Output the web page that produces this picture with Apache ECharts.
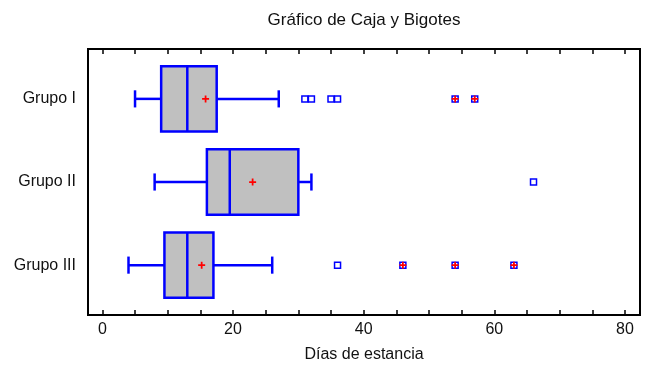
<!DOCTYPE html>
<html>
<head>
<meta charset="utf-8">
<script src="https://cdn.jsdelivr.net/npm/echarts@6/dist/echarts.min.js"></script>
<style>
  html, body { margin: 0; padding: 0; background: #fff; }
  #contain { width: 646px; height: 365px; }
</style>
</head>
<body>
<div id="contain"></div>
<script>
// datos
var grupos = ['Grupo I', 'Grupo II', 'Grupo III'];
var bigoteMin = [5, 8, 4];
var q1 = [9, 16, 9.5];
var mediana = [13, 19.5, 13];
var q3 = [17.5, 30, 17];
var bigoteMax = [27, 32, 26];
var medias = [15.8, 23, 15.2];
var atipicos = [[31, 32, 35, 36], [66], [36]];          // cuadrado azul
var extremos = [[54, 57], [], [46, 54, 63]];           // cuadrado + cruz roja
var xTicks = [0, 5, 10, 15, 20, 25, 30, 35, 40, 45, 50, 55, 60, 65, 70, 75, 80];
var xLabels = [0, 20, 40, 60, 80];

var fuente = 'Liberation Sans, Arial, sans-serif';
var azul = '#0000ff';
var rojo = '#ff0000';
var cruz = 'path://M3,0h2v3h3v2h-3v3h-2v-3h-3v-2h3z';

var cajas = [], puntosMedia = [], puntosAt = [], puntosExt = [];
for (var i = 0; i < grupos.length; i++) {
    cajas.push([i + 1, bigoteMin[i], q1[i], mediana[i], q3[i], bigoteMax[i]]);
    puntosMedia.push([medias[i], i + 1]);
    atipicos[i].forEach(function (v) { puntosAt.push([v, i + 1]); });
    extremos[i].forEach(function (v) { puntosExt.push([v, i + 1]); });
}

function dibujaCaja(params, api) {
    var y = api.value(0);
    var half = 0.393, cap = 0.103;
    var a = api.coord([api.value(2), y - half]);
    var b = api.coord([api.value(4), y + half]);
    var top = Math.min(a[1], b[1]), bot = Math.max(a[1], b[1]);
    var med = api.coord([api.value(3), y]);
    var lo = api.coord([api.value(1), y]);
    var hi = api.coord([api.value(5), y]);
    var c1 = api.coord([api.value(1), y - cap]);
    var c2 = api.coord([api.value(1), y + cap]);
    var lineStyle = { stroke: azul, lineWidth: 2.5, fill: null };
    return {
        type: 'group',
        children: [
            { type: 'line', shape: { x1: lo[0], y1: lo[1], x2: a[0], y2: lo[1] }, style: lineStyle },
            { type: 'line', shape: { x1: b[0], y1: hi[1], x2: hi[0], y2: hi[1] }, style: lineStyle },
            { type: 'line', shape: { x1: lo[0], y1: c1[1], x2: lo[0], y2: c2[1] }, style: lineStyle },
            { type: 'line', shape: { x1: hi[0], y1: c1[1], x2: hi[0], y2: c2[1] }, style: lineStyle },
            { type: 'rect', shape: { x: a[0], y: top, width: b[0] - a[0], height: bot - top },
              style: { fill: '#c0c0c0', stroke: azul, lineWidth: 2.5 } },
            { type: 'line', shape: { x1: med[0], y1: top, x2: med[0], y2: bot }, style: lineStyle }
        ]
    };
}

var myChart = echarts.init(document.getElementById('contain'));
var option = {
    animation: false,
    backgroundColor: '#fff',
    title: {
        text: 'Gráfico de Caja y Bigotes',
        left: 359,
        top: 7,
        textAlign: 'center',
        textStyle: { fontFamily: fuente, fontSize: 17, fontWeight: 'normal', color: '#111' }
    },
    grid: {
        left: 88, right: 6, top: 49, bottom: 50,
        outerBoundsMode: 'none',
        show: true, borderColor: '#000', borderWidth: 2, backgroundColor: 'transparent'
    },
    xAxis: [
        {
            type: 'value', min: -2.2, max: 82.3, position: 'bottom',
            name: 'Días de estancia', nameLocation: 'middle', nameGap: 32,
            nameTextStyle: { fontFamily: fuente, fontSize: 16, color: '#111' },
            splitLine: { show: false },
            axisLine: { show: true, onZero: false, lineStyle: { color: '#000', width: 2 } },
            axisTick: { inside: true, length: 5, customValues: xTicks, lineStyle: { color: '#000', width: 1.5 } },
            axisLabel: { customValues: xLabels, margin: 7, fontFamily: fuente, fontSize: 16, color: '#111' }
        },
        {
            type: 'value', min: -2.2, max: 82.3, position: 'top',
            splitLine: { show: false },
            axisLine: { show: true, onZero: false, lineStyle: { color: '#000', width: 2 } },
            axisTick: { inside: true, length: 5, customValues: xTicks, lineStyle: { color: '#000', width: 1.5 } },
            axisLabel: { show: false }
        }
    ],
    yAxis: {
        type: 'value', min: 0.4, max: 3.6, inverse: true,
        splitLine: { show: false },
        axisLine: { show: true, onZero: false, lineStyle: { color: '#000', width: 2 } },
        axisTick: { show: false },
        axisLabel: {
            customValues: [1, 2, 3], margin: 12,
            fontFamily: fuente, fontSize: 16, color: '#111',
            formatter: function (v) { return grupos[Math.round(v) - 1]; }
        }
    },
    series: [
        {
            type: 'custom', renderItem: dibujaCaja, data: cajas,
            encode: { x: [1, 2, 3, 4, 5], y: 0 }, z: 2
        },
        {
            type: 'scatter', data: puntosAt, symbol: 'rect', symbolSize: 6, z: 3,
            itemStyle: { color: '#fff', borderColor: azul, borderWidth: 1.5, opacity: 1 }
        },
        {
            type: 'scatter', data: puntosExt, symbol: 'rect', symbolSize: 6, z: 3,
            itemStyle: { color: '#fff', borderColor: azul, borderWidth: 1.5, opacity: 1 }
        },
        {
            type: 'scatter', data: puntosExt, symbol: cruz, symbolSize: 7, z: 4,
            itemStyle: { color: rojo, opacity: 1 }
        },
        {
            type: 'scatter', data: puntosMedia, symbol: cruz, symbolSize: 7, z: 4,
            itemStyle: { color: rojo, opacity: 1 }
        }
    ]
};
myChart.setOption(option);
</script>
</body>
</html>
